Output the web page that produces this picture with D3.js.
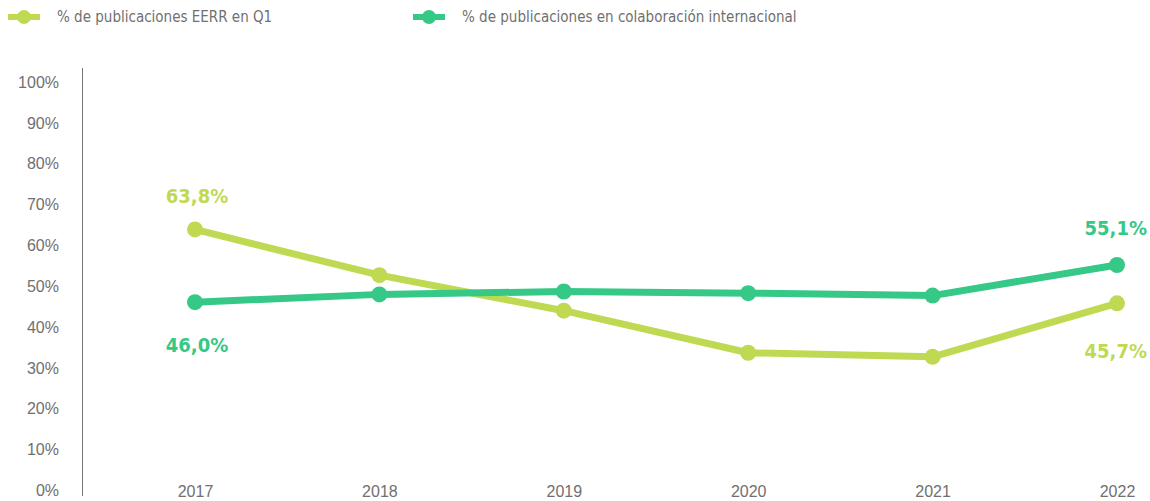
<!DOCTYPE html>
<html><head><meta charset="utf-8">
<script src="https://cdn.jsdelivr.net/npm/d3@7"></script>
<style>
body{margin:0;background:#fff;}
svg{display:block;font-family:"Liberation Sans Narrow","DejaVu Sans Condensed","Roboto",sans-serif;}
</style></head>
<body><svg id="c" width="1150" height="501"></svg>
<script>
const years = ["2017","2018","2019","2020","2021","2022"];
const eerrQ1 = [63.8, 52.6, 43.9, 33.6, 32.6, 45.7];
const colabInt = [46.0, 47.9, 48.6, 48.2, 47.6, 55.1];
const yTicks = [0,10,20,30,40,50,60,70,80,90,100];
const seriesNames = ["% de publicaciones EERR en Q1","% de publicaciones en colaboración internacional"];
const colors = ["#BFDA52","#35C886"];

const svg = d3.select("#c");
const x = d3.scalePoint().domain(years).range([195,1117]);
const y = d3.scaleLinear().domain([0,100]).range([490,81.6]);

// y axis
const yAxis = d3.axisLeft(y).tickValues(yTicks).tickFormat(d=>d+"%").tickSize(0).tickPadding(23);
const yg = svg.append("g").attr("transform","translate(82,0)").call(yAxis);
yg.select(".domain").remove();
yg.selectAll("text").attr("fill","#707070").style("font-size","16px").attr("dy","0.35em");
svg.append("line").attr("x1",82.5).attr("x2",82.5).attr("y1",68).attr("y2",496)
  .attr("stroke","#777").attr("stroke-width",1);

// x axis
const xAxis = d3.axisBottom(x).tickSize(0).tickPadding(0);
const xg = svg.append("g").attr("transform","translate(0,491)").call(xAxis);
xg.select(".domain").remove();
xg.selectAll("text").attr("fill","#707070").style("font-size","16px").attr("dy","0.35em").attr("y",0);

const series = [eerrQ1, colabInt];
const line = d3.line().x((d,i)=>x(years[i])).y(d=>y(d));
series.forEach((s,k)=>{
  svg.append("path").datum(s).attr("d",line).attr("fill","none")
    .attr("stroke",colors[k]).attr("stroke-width",7).attr("stroke-linejoin","round");
  svg.selectAll(null).data(s).enter().append("circle")
    .attr("cx",(d,i)=>x(years[i])).attr("cy",d=>y(d)).attr("r",8).attr("fill",colors[k]);
});

// data labels
const fmt = v => v.toFixed(1).replace(".",",")+"%";
const labels = [
  {s:0,i:0,off:-33,dx:2,a:"middle"},{s:1,i:0,off:43,dx:2,a:"middle"},
  {s:1,i:5,off:-37,dx:30,a:"end"},{s:0,i:5,off:48,dx:30,a:"end"}
];
labels.forEach(l=>{
  const v = series[l.s][l.i];
  svg.append("text").attr("x",x(years[l.i])+l.dx).attr("y",y(v)+l.off)
    .attr("text-anchor",l.a).attr("dy","0.35em")
    .attr("fill",colors[l.s]).style("font-size","20px").style("font-weight","bold")
    .text(fmt(v));
});

// legend
const legX = [8,413];
seriesNames.forEach((n,k)=>{
  const g = svg.append("g").attr("transform",`translate(${legX[k]},17)`);
  g.append("line").attr("x1",0).attr("x2",32).attr("y1",0).attr("y2",0)
    .attr("stroke",colors[k]).attr("stroke-width",6);
  g.append("circle").attr("cx",16).attr("cy",0).attr("r",7).attr("fill",colors[k]);
  g.append("text").attr("x",49).attr("y",0).attr("dy","0.35em")
    .attr("fill","#707070").style("font-size","15px").text(n);
});
</script></body></html>
